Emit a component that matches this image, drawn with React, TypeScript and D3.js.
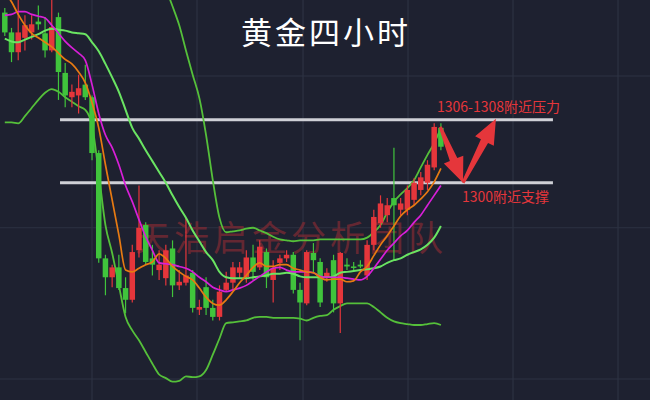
import React from 'react';
import * as d3 from 'd3';

const W = 650;
const H = 400;

// candle data (price)
const opens = [1318.9,1316.7,1314.5,1316.1,1316.7,1317.9,1316.6,1314.7,1318.4,1312.2,1309.5,1309.7,1310.9,1309.5,1303.3,1291.6,1289.5,1290.6,1288.3,1287.0,1292.5,1295.3,1291.6,1290.3,1289.4,1292.7,1288.6,1288.9,1290.0,1285.9,1288.4,1286.1,1285.1,1288.1,1288.9,1290.0,1289.5,1291.7,1290.6,1292.3,1289.2,1291.1,1291.6,1292.0,1288.1,1286.6,1292.2,1291.2,1289.5,1291.4,1286.6,1290.9,1290.7,1290.9,1289.7,1293.1,1295.5,1296.4,1298.3,1297.0,1297.0,1298.1,1299.2,1300.0,1301.7,1306.1];
const highs = [1319.4,1317.2,1320.8,1318.6,1318.6,1319.7,1318.4,1320.8,1318.9,1313.3,1310.9,1312.0,1313.1,1309.7,1303.6,1292.0,1290.9,1292.0,1289.5,1293.1,1299.7,1295.6,1293.1,1292.5,1293.1,1293.6,1290.3,1296.1,1290.3,1287.0,1289.5,1287.0,1288.6,1290.1,1291.2,1291.2,1292.5,1293.1,1293.6,1292.7,1291.4,1292.0,1292.5,1292.3,1288.9,1292.5,1293.3,1291.6,1290.5,1292.0,1292.3,1291.6,1291.2,1291.4,1293.6,1297.0,1298.6,1298.3,1303.9,1298.3,1299.7,1300.5,1301.2,1302.5,1306.6,1306.6];
const lows = [1316.3,1313.4,1313.6,1314.7,1315.9,1317.0,1313.9,1314.5,1309.2,1308.4,1308.4,1307.7,1309.2,1302.5,1291.1,1287.5,1288.4,1288.1,1285.5,1286.7,1291.7,1290.9,1289.7,1289.2,1288.6,1287.3,1288.1,1288.6,1285.6,1285.3,1285.3,1284.7,1284.7,1287.9,1288.1,1289.4,1288.9,1289.2,1290.3,1288.3,1286.7,1290.3,1291.2,1287.7,1282.5,1286.4,1290.0,1286.2,1289.0,1285.6,1283.3,1290.3,1290.3,1290.5,1289.2,1292.5,1295.0,1295.6,1291.4,1296.4,1296.4,1297.5,1298.6,1299.2,1301.4,1303.6];
const closes = [1316.7,1314.5,1316.7,1317.5,1317.6,1317.6,1314.7,1317.3,1312.3,1309.7,1310.1,1310.5,1309.5,1303.3,1291.6,1289.5,1290.6,1288.3,1287.0,1292.3,1295.0,1291.2,1290.9,1290.9,1292.5,1288.6,1289.0,1289.7,1286.1,1286.2,1286.1,1285.1,1287.9,1288.9,1290.6,1290.6,1291.7,1290.1,1292.9,1289.5,1290.5,1291.6,1292.0,1288.1,1286.7,1292.3,1291.4,1286.7,1290.0,1286.6,1292.2,1290.7,1290.6,1290.7,1293.1,1296.2,1297.7,1297.5,1297.5,1297.7,1299.2,1300.0,1300.6,1302.0,1306.2,1304.0];

// indicator lines
const ma5 = [1321.2,1320.1,1318.7,1317.5,1316.6,1316.1,1315.6,1315.1,1314.4,1313.7,1313.2,1312.3,1311.1,1308.9,1306.1,1302.0,1298.1,1294.2,1290.3,1290.1,1290.5,1290.9,1291.2,1292.1,1291.6,1290.7,1290.1,1289.6,1289.2,1288.3,1287.3,1286.6,1286.4,1287.0,1287.9,1288.9,1289.7,1290.6,1291.1,1290.7,1290.7,1290.9,1290.9,1290.5,1290.3,1290.1,1290.0,1289.5,1289.2,1289.3,1289.3,1289.0,1289.1,1290.1,1290.7,1291.9,1293.1,1294.1,1295.2,1296.3,1297.0,1297.5,1298.2,1299.0,1300.1,1301.6];
const ma10 = [1318.6,1318.7,1319.0,1319.0,1318.7,1318.5,1318.3,1317.5,1316.6,1315.7,1315.0,1314.4,1313.6,1310.9,1307.7,1305.3,1303.9,1302.0,1299.7,1297.9,1295.9,1294.0,1292.5,1291.1,1291.0,1290.9,1290.7,1290.5,1290.1,1289.5,1289.0,1288.4,1288.1,1287.9,1288.1,1288.3,1288.6,1289.1,1289.6,1290.1,1290.5,1290.6,1290.3,1290.1,1290.1,1290.1,1290.0,1289.6,1289.5,1289.5,1289.5,1289.4,1289.3,1289.2,1289.6,1290.5,1291.5,1292.5,1293.3,1294.1,1294.7,1295.6,1296.4,1297.5,1298.6,1299.7];
const bollMid = [1316.0,1315.7,1315.6,1315.9,1316.2,1316.5,1316.9,1317.1,1317.0,1316.9,1316.7,1316.6,1316.5,1315.6,1314.6,1313.2,1311.7,1310.1,1308.1,1306.1,1304.9,1303.6,1302.4,1301.2,1300.0,1298.6,1297.3,1296.1,1294.7,1293.5,1292.3,1291.4,1290.1,1289.5,1289.4,1289.4,1289.4,1289.5,1289.6,1289.7,1289.9,1289.9,1290.0,1289.9,1289.6,1289.5,1289.5,1289.5,1289.5,1289.6,1290.0,1290.1,1290.2,1290.3,1290.4,1290.5,1290.7,1291.1,1291.4,1291.6,1292.0,1292.3,1292.6,1293.1,1293.9,1295.2];
const bollUp = [1325.2,1325.2,1325.3,1324.3,1324.1,1323.9,1323.7,1323.7,1323.9,1324.2,1324.5,1324.7,1325.0,1324.9,1328.2,1331.1,1331.3,1331.5,1331.1,1328.5,1327.2,1326.1,1325.0,1323.6,1321.6,1319.6,1317.5,1314.7,1312.0,1309.4,1305.3,1300.3,1296.1,1294.5,1294.6,1294.7,1294.9,1295.0,1294.7,1294.4,1294.0,1293.7,1293.6,1293.5,1293.6,1293.6,1293.6,1293.7,1293.7,1293.7,1293.7,1293.7,1293.7,1293.7,1293.9,1294.5,1295.3,1296.7,1297.9,1298.7,1299.4,1300.3,1301.7,1303.1,1304.4,1306.1];
const bollLow = [1306.7,1306.7,1306.6,1307.4,1308.3,1309.2,1310.0,1310.4,1310.1,1309.5,1309.0,1308.5,1308.1,1306.4,1301.1,1295.3,1292.2,1288.6,1285.1,1283.6,1282.5,1281.2,1279.9,1278.7,1278.3,1277.9,1278.0,1278.5,1278.4,1278.5,1279.2,1280.9,1282.7,1284.4,1284.5,1284.6,1284.7,1285.0,1285.1,1285.1,1285.0,1285.0,1285.0,1285.0,1284.9,1284.7,1285.0,1285.2,1285.3,1285.9,1286.3,1286.6,1286.6,1286.6,1286.6,1286.2,1285.6,1285.0,1284.6,1284.4,1284.3,1284.2,1284.2,1284.3,1284.4,1284.2];

// reference levels and grid
const levelPrices = [1307, 1300];
const levelRange = [8.23, 81.7];
const gridPrices = [1311.86, 1295.0, 1278.2];
const gridIndex = [13, 28.65, 44.45, 60.1, 75.75, 91.4];

// arrows [fromIndex, fromPrice, toIndex, toPrice]
const arrows = [
  [64.9, 1306.2, 68.3, 1300.0],
  [68.3, 1300.0, 73.2, 1307.1],
];

const titleText = '黄金四小时';
const pressureText = '1306-1308附近压力';
const supportText = '1300附近支撑';
const watermark = '天浩启金分析团队';

const RED = '#e5363b';
const GREEN = '#40c43c';

function arrowPts(x1: number, y1: number, x2: number, y2: number, w0: number, w1: number, hw: number, hl: number) {
  const dx = x2 - x1, dy = y2 - y1;
  const len = Math.hypot(dx, dy);
  const ux = dx / len, uy = dy / len;
  const nx = -uy, ny = ux;
  const bx = x2 - ux * hl, by = y2 - uy * hl;
  const p = [
    [x1 + nx * w0 / 2, y1 + ny * w0 / 2],
    [bx + nx * w1 / 2, by + ny * w1 / 2],
    [bx + nx * hw / 2, by + ny * hw / 2],
    [x2, y2],
    [bx - nx * hw / 2, by - ny * hw / 2],
    [bx - nx * w1 / 2, by - ny * w1 / 2],
    [x1 - nx * w0 / 2, y1 - ny * w0 / 2],
  ];
  return p.map(q => q.join(',')).join(' ');
}

export default function App() {
  const x = d3.scaleLinear().domain([0, 65]).range([4.8, 440.9]);
  const y = d3.scaleLinear().domain([1278.2, 1320.3]).range([379, 0]);
  const mk = (vals: number[]) =>
    d3.line<number>().x((_, i) => x(i)).y(v => y(v)).curve(d3.curveMonotoneX)(vals) || '';
  const bw = 5.5;

  return (
    <svg width={W} height={H} style={{ position: 'fixed', left: 0, top: 0, display: 'block' }}
      fontFamily="'Noto Sans CJK SC', 'Noto Sans', sans-serif">
      <rect width={W} height={H} fill="#1e2130" />
      {gridIndex.map((g, i) => (
        <line key={'gx' + i} x1={x(g)} x2={x(g)} y1={0} y2={H} stroke="#2d3242" strokeWidth={1.2} />
      ))}
      {gridPrices.map((g, i) => (
        <line key={'gy' + i} x1={0} x2={W} y1={y(g)} y2={y(g)} stroke="#2d3242" strokeWidth={1.2} />
      ))}
      <text x={135} y={251} fontSize={35} letterSpacing={4} fill="#7c2a33" fillOpacity={0.75}
        fontFamily="'Noto Sans CJK SC', serif">{watermark}</text>
      {levelPrices.map((p, i) => (
        <line key={'lv' + i} x1={x(levelRange[0])} x2={x(levelRange[1])} y1={y(p)} y2={y(p)}
          stroke="#cfd0d6" strokeWidth={3} />
      ))}
      <path d={mk(bollUp)} fill="none" stroke="#55c03a" strokeWidth={1.8} />
      <path d={mk(bollLow)} fill="none" stroke="#55c03a" strokeWidth={1.8} />
      {opens.map((o, i) => {
        const c = closes[i];
        const up = c >= o;
        const col = up ? RED : GREEN;
        const top = y(Math.max(o, c));
        const bot = y(Math.min(o, c));
        return (
          <g key={'c' + i}>
            <line x1={x(i)} x2={x(i)} y1={y(highs[i])} y2={y(lows[i])} stroke={col} strokeWidth={1.2} />
            <rect x={x(i) - bw / 2} y={top} width={bw} height={Math.max(1.5, bot - top)} fill={col} />
          </g>
        );
      })}
      <path d={mk(bollMid)} fill="none" stroke="#6ae462" strokeWidth={2} />
      <path d={mk(ma10)} fill="none" stroke="#d81fd8" strokeWidth={1.7} />
      <path d={mk(ma5)} fill="none" stroke="#e77a12" strokeWidth={1.7} />
      {arrows.map((a, i) => (
        <polygon key={'ar' + i}
          points={arrowPts(x(a[0]), y(a[1]), x(a[2]), y(a[3]), 3, 8, 21, 25)} fill={RED} />
      ))}
      <text x={326} y={44} textAnchor="middle" fontSize={31} letterSpacing={3} fill="#ffffff">{titleText}</text>
      <text x={437} y={112} fontSize={14} fill={RED}>{pressureText}</text>
      <text x={462} y={202} fontSize={14} fill={RED}>{supportText}</text>
    </svg>
  );
}
